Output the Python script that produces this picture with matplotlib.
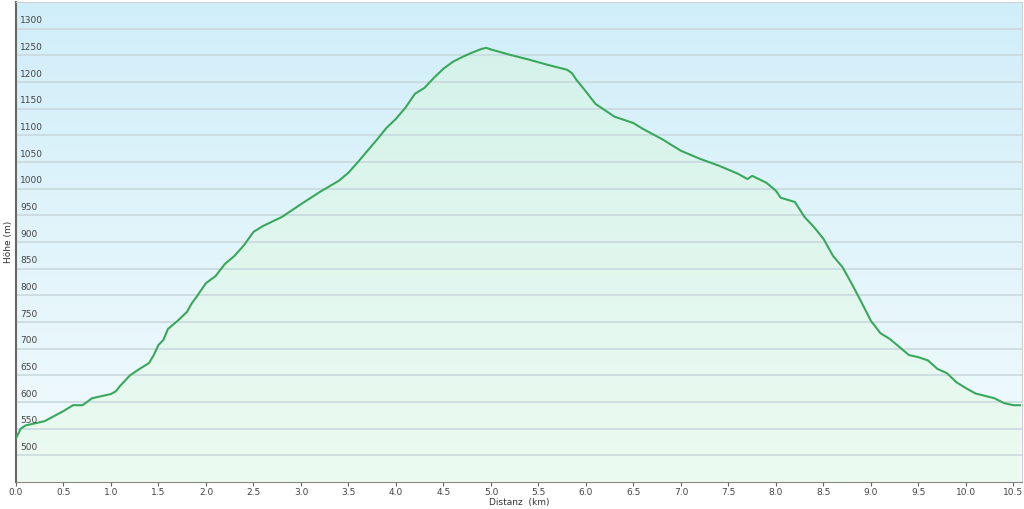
import numpy as np
import matplotlib
matplotlib.use('Agg')
import matplotlib.pyplot as plt
from matplotlib.colors import LinearSegmentedColormap
from matplotlib.patches import PathPatch
from matplotlib.path import Path

# profile: distance (km), elevation (m)
dist = [0.0, 0.05, 0.1, 0.3, 0.5, 0.6, 0.7, 0.8, 0.9, 1.0, 1.05, 1.1, 1.2, 1.3, 1.4,
        1.45, 1.5, 1.55, 1.6, 1.7, 1.8, 1.85, 1.9, 2.0, 2.1, 2.2, 2.3, 2.4, 2.5, 2.6,
        2.8, 3.0, 3.2, 3.4, 3.5, 3.6, 3.7, 3.8, 3.9, 4.0, 4.1, 4.2, 4.3, 4.4, 4.5,
        4.6, 4.7, 4.8, 4.9, 4.95, 5.0, 5.2, 5.4, 5.6, 5.8, 5.85, 5.9, 6.0, 6.1, 6.3,
        6.5, 6.6, 6.8, 7.0, 7.2, 7.4, 7.6, 7.7, 7.75, 7.9, 8.0, 8.05, 8.2, 8.3, 8.4,
        8.5, 8.6, 8.7, 8.8, 8.9, 9.0, 9.1, 9.2, 9.3, 9.4, 9.5, 9.6, 9.7, 9.8, 9.9,
        10.0, 10.1, 10.3, 10.4, 10.5, 10.57]
elev = [532, 550, 556, 564, 583, 594, 594, 607, 611, 615, 620, 631, 650, 662, 673,
        688, 707, 716, 737, 752, 769, 785, 797, 823, 836, 859, 874, 894, 919, 930,
        947, 971, 994, 1015, 1030, 1050, 1071, 1092, 1114, 1131, 1152, 1178, 1189, 1208, 1225,
        1238, 1247, 1255, 1262, 1264, 1261, 1251, 1242, 1232, 1223, 1217, 1204, 1182, 1159, 1135,
        1123, 1112, 1093, 1071, 1056, 1043, 1028, 1018, 1024, 1011, 996, 983, 975, 947, 928,
        906, 874, 853, 821, 787, 752, 729, 718, 703, 688, 684, 678, 662, 654, 637,
        626, 616, 607, 598, 594, 594]

xticks = np.arange(0, 10.51, 0.5)
yticks = np.arange(500, 1301, 50)

fig = plt.figure(figsize=(10.24, 5.09), dpi=100)
ax = fig.add_axes([16 / 1024, 27 / 509, 1006 / 1024, 480 / 509])
xmin, xmax, ymin, ymax = 0, 10.59, 450, 1350
ax.set_xlim(xmin, xmax)
ax.set_ylim(ymin, ymax)

# background gradient (light blue to near white)
grad = np.linspace(1, 0, 256).reshape(-1, 1)
bg_cmap = LinearSegmentedColormap.from_list('bg', ['#f3fbfd', '#d0eef9'])
ax.imshow(grad, cmap=bg_cmap, aspect='auto', extent=[xmin, xmax, ymin, ymax],
          origin='upper', zorder=0)

# area fill with its own gradient, clipped to the profile
verts = [(dist[0], ymin)] + list(zip(dist, elev)) + [(dist[-1], ymin)]
clip = PathPatch(Path(verts), facecolor='none', edgecolor='none')
ax.add_patch(clip)
fill_cmap = LinearSegmentedColormap.from_list('fill', ['#ecfbf1', '#d3f3ea'])
im = ax.imshow(grad, cmap=fill_cmap, aspect='auto', extent=[xmin, xmax, ymin, ymax],
               origin='upper', zorder=1, alpha=0.95)
im.set_clip_path(clip)

for yv in np.arange(500, 1351, 50):
    ax.axhline(yv, color='#c9d9de', lw=1.2, zorder=2)

ax.plot(dist, elev, color='#3aa85c', lw=1.5, zorder=3)

# y labels sit inside the plot, just above each grid line
for yv in yticks:
    ax.text(0.045, yv + 6, f'{yv}', fontsize=6.5, color='#444444', va='bottom',
            ha='left', zorder=4)
ax.set_yticks([])

ax.set_xticks(xticks)
ax.set_xticklabels([f'{v:.1f}' for v in xticks], fontsize=6.5, color='#444444')
ax.tick_params(axis='x', length=3, color='#666666', pad=1)
ax.set_xlabel('Distanz  (km)', fontsize=6.5, color='#333333', labelpad=1)
ax.set_ylabel('Höhe (m)', fontsize=6.5, color='#333333', labelpad=2)

ax.spines['left'].set_color('#666666')
ax.spines['left'].set_linewidth(1.5)
ax.spines['bottom'].set_color('#888888')
ax.spines['top'].set_color('#d0d0d0')
ax.spines['right'].set_color('#d0d0d0')

fig.savefig('out.png', dpi=100)
